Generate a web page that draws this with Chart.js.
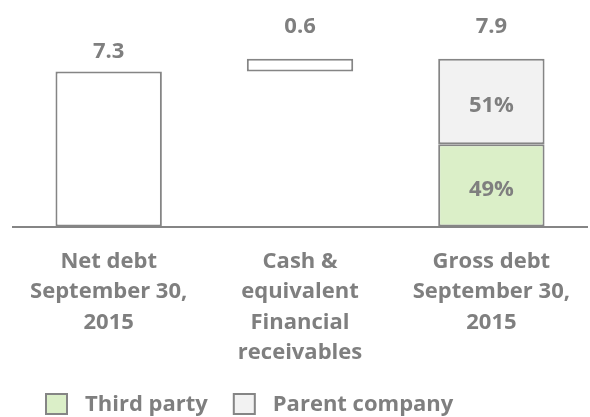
<!DOCTYPE html>
<html>
<head>
<meta charset="utf-8">
<title>Net debt bridge</title>
<script src="https://cdn.jsdelivr.net/npm/chart.js@4.4.0/dist/chart.umd.min.js"></script>
<style>
  html, body { margin: 0; padding: 0; background: #ffffff; }
  #wrap { width: 590px; height: 417px; }
</style>
</head>
<body>
<div id="wrap"><canvas id="debtChart" width="590" height="417"></canvas></div>
<script>
// data (EUR bn)
const categories = [
  ['Net debt', 'September 30,', '2015'],
  ['Cash &', 'equivalent', 'Financial', 'receivables'],
  ['Gross debt', 'September 30,', '2015']
];
const stepValues = [7.3, 0.6, 7.9];
const thirdPartyShare = 49;   // % of gross debt
const parentShare = 51;       // % of gross debt
const seriesNames = ['Third party', 'Parent company'];

// styling
const FONT = '"Open Sans", sans-serif';
const FONT_SIZE = 22;
const TEXT_GREY = '#7f7f7f';
const LINE_GREY = '#858585';
const GREEN = '#dbefc8';
const LIGHT = '#f2f2f2';
const valueGap = [13, 26, 26];

// waterfall segments
const netDebt = stepValues[0];
const gross = stepValues[2];
const splitAt = gross * thirdPartyShare / 100;

const bridgeBars = [[0, netDebt], [netDebt, netDebt + stepValues[1]], null];
const thirdPartyBars = [null, null, [0, splitAt]];
const parentBars = [null, null, [splitAt, splitAt + gross * parentShare / 100]];

const labelPlugin = {
  id: 'barLabels',
  afterDatasetsDraw(chart) {
    const ctx = chart.ctx;
    const bridge = chart.getDatasetMeta(0).data;
    const third = chart.getDatasetMeta(1).data[2];
    const parent = chart.getDatasetMeta(2).data[2];
    ctx.save();
    ctx.fillStyle = TEXT_GREY;
    ctx.font = 'bold ' + FONT_SIZE + 'px ' + FONT;
    ctx.textAlign = 'center';
    ctx.textBaseline = 'alphabetic';
    ctx.fillText(stepValues[0].toFixed(1), bridge[0].x, bridge[0].y - valueGap[0]);
    ctx.fillText(stepValues[1].toFixed(1), bridge[1].x, bridge[1].y - valueGap[1]);
    ctx.fillText(stepValues[2].toFixed(1), parent.x, parent.y - valueGap[2]);

    ctx.textBaseline = 'middle';
    ctx.fillText(parentShare + '%', parent.x, (parent.y + parent.base) / 2 + 4);
    ctx.fillText(thirdPartyShare + '%', third.x, (third.y + third.base) / 2 + 4);
    ctx.restore();
  },
  afterDraw(chart) {
    // legend for the gross debt split
    const ctx = chart.ctx;
    const fills = [GREEN, LIGHT];
    let x = 45;
    const y = 393;
    ctx.save();
    ctx.font = 'bold ' + FONT_SIZE + 'px ' + FONT;
    ctx.textBaseline = 'middle';
    ctx.textAlign = 'left';
    seriesNames.forEach((name, i) => {
      ctx.fillStyle = fills[i];
      ctx.fillRect(x, y, 23, 22);
      ctx.strokeStyle = LINE_GREY;
      ctx.lineWidth = 2;
      ctx.strokeRect(x + 1, y + 1, 21, 20);
      ctx.fillStyle = TEXT_GREY;
      ctx.fillText(name, x + 40, y + 12);
      x += 40 + ctx.measureText(name).width + 25;
    });
    ctx.restore();
  }
};

new Chart(document.getElementById('debtChart'), {
  type: 'bar',
  data: {
    labels: categories,
    datasets: [
      {
        label: 'Bridge',
        data: bridgeBars,
        backgroundColor: '#ffffff',
        borderColor: LINE_GREY,
        borderWidth: 2,
        borderSkipped: false
      },
      {
        label: seriesNames[0],
        data: thirdPartyBars,
        backgroundColor: GREEN,
        borderColor: LINE_GREY,
        borderWidth: 2,
        borderSkipped: false
      },
      {
        label: seriesNames[1],
        data: parentBars,
        backgroundColor: LIGHT,
        borderColor: LINE_GREY,
        borderWidth: 2,
        borderSkipped: false
      }
    ]
  },
  options: {
    responsive: false,
    animation: false,
    devicePixelRatio: 1,
    barPercentage: 0.556,
    categoryPercentage: 1,
    layout: {
      padding: { top: 14, left: 13, right: 0, bottom: 29 }
    },
    plugins: {
      legend: { display: false },
      tooltip: { enabled: false }
    },
    scales: {
      x: {
        stacked: true,
        grid: { display: false, drawTicks: false },
        border: { display: true, color: LINE_GREY, width: 2 },
        ticks: {
          color: TEXT_GREY,
          padding: 20,
          autoSkip: false,
          maxRotation: 0,
          font: { family: FONT, size: FONT_SIZE, weight: 'bold', lineHeight: 1.38 }
        }
      },
      y: {
        display: false,
        min: 0,
        max: 10
      }
    }
  },
  plugins: [labelPlugin]
});
</script>
</body>
</html>
